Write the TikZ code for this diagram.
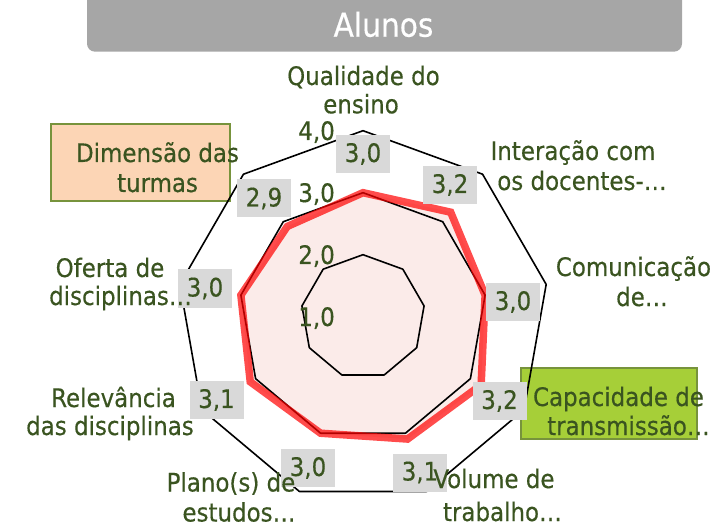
\documentclass[tikz,border=0pt]{standalone}
\usepackage{fontspec}
\setmainfont{DejaVu Sans Condensed}[FakeBold=0.4]
\definecolor{txt}{RGB}{58,84,32}
\definecolor{peach}{RGB}{252,213,181}
\definecolor{olive}{RGB}{119,147,60}
\definecolor{lime}{RGB}{166,207,56}
\definecolor{valbg}{RGB}{217,217,217}
\definecolor{titlebg}{RGB}{166,166,166}
\definecolor{pinkfill}{RGB}{251,235,233}
\newcommand\lblfont{\fontsize{25.5bp}{29.5bp}\selectfont}
\newcommand\ttlfont{\fontsize{33bp}{38bp}\selectfont}
\begin{document}
\begin{tikzpicture}[x=1bp,y=-1bp,
  lbl/.style={anchor=base, text=txt, font=\lblfont, inner sep=0pt},
  valbox/.style={fill=valbg, text=txt, font=\lblfont, minimum width=54bp, minimum height=38bp, inner sep=0pt},
  scalelbl/.style={anchor=base east, text=txt, font=\lblfont, inner sep=0pt},
  ring/.style={draw=black, line width=1.6bp, line join=round},
  hlbox/.style={draw=olive, line width=2bp},
  series/.style={draw=red, draw opacity=0.7, line width=7.5bp, line join=miter}]
\useasboundingbox (0,0) rectangle (722,529);
% title
\fill[titlebg, rounded corners=8bp] (87,-20) rectangle (682,51.7);
\node[anchor=base, text=white, font=\ttlfont, inner sep=0pt] (title) at (383.5,36.7) {Alunos};
% highlighted label backgrounds
\node[hlbox, fill=peach, anchor=north west, minimum width=179bp, minimum height=77bp, inner sep=0pt] (dimbox) at (50,123) {};
\node[hlbox, fill=lime, anchor=north west, minimum width=176bp, minimum height=71bp, inner sep=0pt] (capbox) at (520,367) {};
\begin{scope}[shift={(363,316.7)}]
  \foreach \k/\v in {0/3.0,1/3.2,2/3.0,3/3.2,4/3.1,5/3.0,6/3.1,7/3.0,8/2.9}
    \coordinate (d\k) at ({40*\k-90}:{(\v-1)*62});
  \fill[pinkfill] (d0) -- (d1) -- (d2) -- (d3) -- (d4) -- (d5) -- (d6) -- (d7) -- (d8) -- cycle;
  \foreach \r in {62,124,186}
    \draw[ring] (-90:\r) \foreach \k in {1,...,8}{ -- ({40*\k-90}:\r)} -- cycle;
  \draw[series] (d0) -- (d1) -- (d2) -- (d3) -- (d4) -- (d5) -- (d6) -- (d7) -- (d8) -- cycle;
\end{scope}
% scale labels
\node[scalelbl] (s4) at (335,140) {4,0};
\node[scalelbl] (s3) at (335,202) {3,0};
\node[scalelbl] (s2) at (335,264) {2,0};
\node[scalelbl] (s1) at (335,326) {1,0};
% value boxes
\node[valbox] (v0) at (363,154) {3,0};
\node[valbox] (v1) at (450,185) {3,2};
\node[valbox] (v2) at (513,302) {3,0};
\node[valbox] (v3) at (499.5,401) {3,2};
\node[valbox] (v4) at (420,472.5) {3,1};
\node[valbox] (v5) at (308,468) {3,0};
\node[valbox] (v6) at (216.5,400) {3,1};
\node[valbox] (v7) at (205,288.5) {3,0};
\node[valbox] (v8) at (264,198.5) {2,9};
% category labels
\node[lbl] (q1) at (363.5,85) {Qualidade do};
\node[lbl] (q2) at (361,113.3) {ensino};
\node[lbl] (i1) at (573,160) {Interação com};
\node[lbl] (i2) at (582,190) {os docentes-…};
\node[lbl] (c1) at (633.5,276) {Comunicação};
\node[lbl] (c2) at (642,306) {de…};
\node[lbl] (p1) at (618.5,406) {Capacidade de};
\node[lbl] (p2) at (628.5,435) {transmissão…};
\node[lbl] (w1) at (494,488) {Volume de};
\node[lbl] (w2) at (502.5,521) {trabalho…};
\node[lbl] (e1) at (231,491.5) {Plano(s) de};
\node[lbl] (e2) at (239,521.5) {estudos…};
\node[lbl] (r1) at (113.5,407) {Relevância};
\node[lbl] (r2) at (110,435) {das disciplinas};
\node[lbl] (o1) at (110,277) {Oferta de};
\node[lbl] (o2) at (120.5,305) {disciplinas…};
\node[lbl] (m1) at (157.5,162) {Dimensão das};
\node[lbl] (m2) at (157.5,192) {turmas};
\end{tikzpicture}
\end{document}
